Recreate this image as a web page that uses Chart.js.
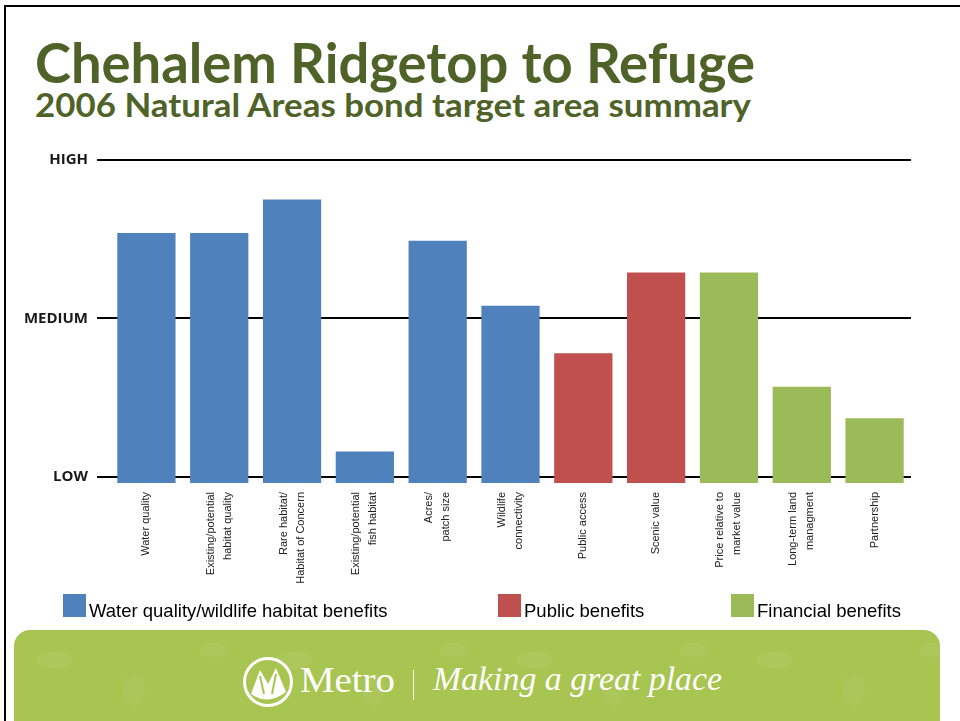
<!DOCTYPE html>
<html>
<head>
<meta charset="utf-8">
<script src="https://cdn.jsdelivr.net/npm/chart.js@4.4.1/dist/chart.umd.min.js"></script>
<style>
html,body{margin:0;padding:0;background:#fff;}
body{width:960px;height:721px;overflow:hidden;position:relative;font-family:'Liberation Sans',Arial,sans-serif;}
#frameTop{position:absolute;left:4px;top:5px;width:956px;height:2px;background:#000;}
#frameLeft{position:absolute;left:4px;top:5px;width:2px;height:716px;background:#000;}
.ttl{position:absolute;left:35px;font-family:Lato,'Open Sans',sans-serif;font-weight:700;color:#4f6228;white-space:nowrap;line-height:1.2;transform-origin:0 0;}
#t1{font-size:56px;top:28px;}
#t2{font-size:33px;top:85px;}
#chartBox{position:absolute;left:0;top:140px;width:960px;height:460px;}
.lg{position:absolute;top:594px;height:23px;}
.lgbox{position:absolute;left:0;top:0;width:23px;height:23px;}
.lgtxt{position:absolute;top:8px;font-size:18.5px;line-height:18px;color:#000;white-space:nowrap;}
#footer{position:absolute;left:14px;top:630px;width:926px;height:120px;border-radius:16px;
  background-color:#a8c552;
  background-image:
   radial-gradient(ellipse 30px 14px at 40px 30px, rgba(255,255,255,0.05) 60%, transparent 62%),
   radial-gradient(ellipse 18px 26px at 120px 60px, rgba(255,255,255,0.04) 60%, transparent 62%),
   radial-gradient(ellipse 24px 12px at 200px 20px, rgba(255,255,255,0.05) 60%, transparent 62%);
  background-size:240px 90px;}
.ft{position:absolute;color:#fff;font-family:'Liberation Serif','DejaVu Serif',serif;white-space:nowrap;line-height:1;transform-origin:0 0;}
#metro{font-size:36px;}
#slogan{font-size:33px;font-style:italic;}
#divider{position:absolute;left:413px;top:670px;width:1px;height:30px;background:rgba(255,255,255,0.9);}
#logo{position:absolute;left:242px;top:656px;width:52px;height:52px;}
</style>
</head>
<body>
<div id="frameTop"></div>
<div id="frameLeft"></div>
<div id="t1" class="ttl">Chehalem Ridgetop to Refuge</div>
<div id="t2" class="ttl">2006 Natural Areas bond target area summary</div>
<div id="chartBox"><canvas id="c" width="960" height="460"></canvas></div>
<div id="legend"></div>
<div id="footer"></div>
<svg id="logo" viewBox="0 0 52 52">
  <circle cx="26" cy="26" r="23.5" fill="none" stroke="#fff" stroke-width="3"/>
  <path d="M9 38 L18 14 L26 28 L34 12 L44 36 Q26 50 9 38 Z" fill="#fff"/>
  <path d="M18 20 L22 38 M34 18 L30 38" stroke="#a8c552" stroke-width="2" fill="none"/>
</svg>
<div id="metro" class="ft">Metro</div>
<div id="divider"></div>
<div id="slogan" class="ft">Making a great place</div>
<script>
// ---- data ----
const categories = [
  'Water quality',
  ['Existing/potential', 'habitat quality'],
  ['Rare habitat/', 'Habitat of Concern'],
  ['Existing/potential', 'fish habitat'],
  ['Acres/', 'patch size'],
  ['Wildlife', 'connectivity'],
  'Public access',
  'Scenic value',
  ['Price relative to', 'market value'],
  ['Long-term land', 'managment'],
  'Partnership'
];
const habitatValues   = [2.54, 2.54, 2.75, 1.16, 2.49, 2.08, null, null, null, null, null];
const publicValues    = [null, null, null, null, null, null, 1.78, 2.29, null, null, null];
const financialValues = [null, null, null, null, null, null, null, null, 2.29, 1.57, 1.37];
const seriesNames  = ['Water quality/wildlife habitat benefits', 'Public benefits', 'Financial benefits'];
const seriesColors = ['#4f81bd', '#c0504d', '#9bbb59'];
const tickValues = [1, 2, 3];
const tickLabels = ['LOW', 'MEDIUM', 'HIGH'];

// ---- legend (HTML) ----
const legendX = [63, 498, 731];
const legendEl = document.getElementById('legend');
seriesNames.forEach((n, i) => {
  const d = document.createElement('div');
  d.className = 'lg';
  d.style.left = legendX[i] + 'px';
  d.innerHTML = '<div class="lgbox" style="background:' + seriesColors[i] + '"></div><div class="lgtxt" style="left:26px">' + n + '</div>';
  legendEl.appendChild(d);
});

// ---- fit text widths ----
function fit(id, left, top, width) {
  const el = document.getElementById(id);
  el.style.left = left + 'px';
  el.style.top = top + 'px';
  const w = el.getBoundingClientRect().width;
  el.style.transform = 'scaleX(' + (width / w) + ')';
}
fit('t1', 35, 28, 720);
fit('t2', 35, 85, 716);
fit('metro', 300, 662, 95);
fit('slogan', 433, 663, 289);

// ---- chart ----
const allSeries = [habitatValues, publicValues, financialValues];
new Chart(document.getElementById('c'), {
  type: 'bar',
  data: {
    labels: categories,
    datasets: allSeries.map((vals, i) => ({
      label: seriesNames[i],
      data: vals,
      backgroundColor: seriesColors[i],
      borderWidth: 0,
      grouped: false,
      barPercentage: 0.8,
      categoryPercentage: 1.0
    }))
  },
  options: {
    responsive: false,
    animation: false,
    layout: { padding: { top: 20, right: 49, left: 0, bottom: 0 } },
    plugins: { legend: { display: false }, tooltip: { enabled: false } },
    scales: {
      x: {
        offset: true,
        grid: { display: false, drawTicks: false },
        border: { display: false },
        ticks: {
          autoSkip: false,
          minRotation: 90,
          maxRotation: 90,
          padding: 9,
          labelOffset: -8.5,
          color: '#222',
          font: { family: "'Liberation Sans', Arial, sans-serif", size: 11, lineHeight: 8.5 / 11 },
          callback: function (v, i) {
            const c = categories[i];
            return Array.isArray(c) ? [c[0], '', c[1]] : ['', c];
          }
        },
        afterFit: s => { s.height = 117; }
      },
      y: {
        min: 0.962,
        max: 3,
        z: 1,
        afterBuildTicks: s => { s.ticks = tickValues.map(v => ({ value: v })); },
        grid: { color: '#000', lineWidth: 2, tickLength: 13, drawTicks: true },
        border: { display: false },
        ticks: {
          padding: 9,
          color: '#1a1a1a',
          font: { family: "'Open Sans', sans-serif", size: 15, weight: 'bold' },
          callback: v => { const k = tickValues.indexOf(v); return k >= 0 ? tickLabels[k] : ''; }
        },
        afterFit: s => { s.width = 110; }
      }
    }
  }
});
</script>
</body>
</html>
